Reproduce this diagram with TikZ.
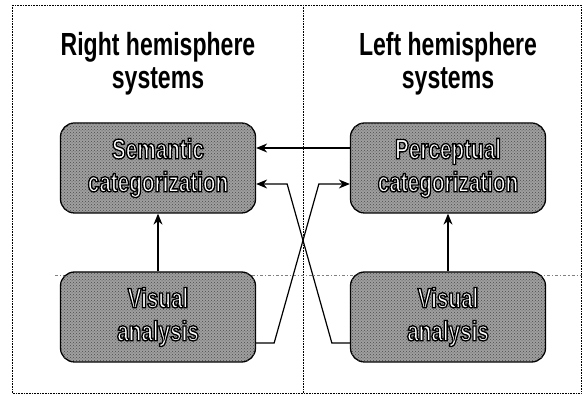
\documentclass[tikz,border=0pt]{standalone}
\usepackage{fontspec}
\setmainfont{Liberation Sans}
\newfontfamily\headfont[FakeStretch=0.72]{Liberation Sans Bold}
\newfontfamily\boxfont[FakeStretch=0.74]{Liberation Sans Bold}
\usetikzlibrary{arrows.meta,patterns}
% white letters with a black outline (text render mode 2)
\newcommand\outlined[1]{\special{pdf:literal direct 2 Tr 1.3 w 0 G}#1\special{pdf:literal direct 0 Tr}}

\begin{document}
\begin{tikzpicture}[x=1pt, y=-1pt, >={Stealth[length=11pt,width=9pt]}, line width=1.2pt,
    box/.style={draw, rounded corners=14pt, minimum width=195pt, minimum height=90pt, line width=1.3pt,
        fill=gray!75, postaction={pattern=crosshatch dots, pattern color=black!70},
        align=center, text=white, font=\boxfont\fontsize{28}{33}\selectfont},
    title/.style={align=center, font=\headfont\fontsize{32}{33}\selectfont}]
    \useasboundingbox (0,0) rectangle (582,395);

    % Frame and hemisphere divider
    \draw[densely dotted, line width=0.6pt] (12,5) rectangle (581,393);
    \draw[densely dotted, line width=0.6pt] (303,5) -- (303,393);
    \draw[dash dot, gray, line width=0.4pt] (55,275) -- (582,275);

    % Titles
    \node (rt) [title] at (158,64) {Right hemisphere\\systems};
    \node (lt) [title] at (448,64) {Left hemisphere\\systems};

    % Nodes
    \node (sem) [box] at (158,168) {\outlined{Semantic}\\\outlined{categorization}};
    \node (per) [box] at (448,168) {\outlined{Perceptual}\\\outlined{categorization}};
    \node (visl) [box] at (158,317) {\outlined{Visual}\\\outlined{analysis}};
    \node (visr) [box] at (448,317) {\outlined{Visual}\\\outlined{analysis}};

    % Arrows within each hemisphere
    \draw[->] (visl.north) -- (sem.south);
    \draw[->] (visr.north) -- (per.south);

    % Arrows across the divider
    \draw[->] ([yshift=20pt]per.west) -- ([yshift=20pt]sem.east);
    \draw[->] ([yshift=-26pt]visl.east) -- ++(18,0) -- ([xshift=-31pt,yshift=-16pt]per.west) -- ([yshift=-16pt]per.west);
    \draw[->] ([yshift=-26pt]visr.west) -- ++(-18,0) -- ([xshift=31pt,yshift=-16pt]sem.east) -- ([yshift=-16pt]sem.east);
\end{tikzpicture}
\end{document}
